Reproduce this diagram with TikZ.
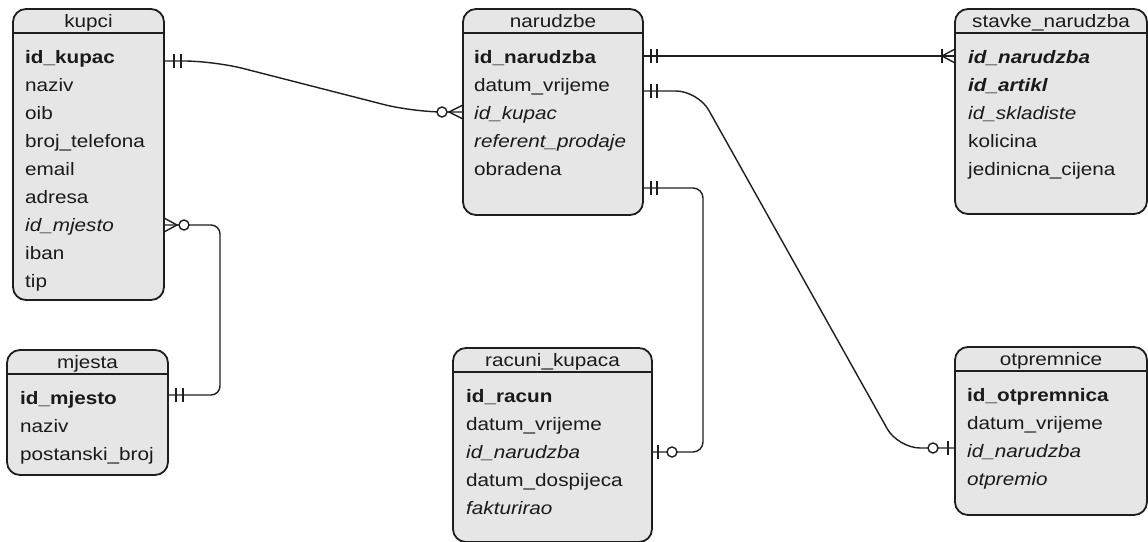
\documentclass[tikz,border=0pt]{standalone}
\usepackage{fontspec}
\setmainfont{Liberation Sans}[FakeStretch=1.15]
\usetikzlibrary{calc}
\definecolor{tblfill}{HTML}{E6E6E6}
\definecolor{ln}{HTML}{1E1E1E}
\definecolor{tx}{HTML}{1A1A1A}
\tikzset{
  tbl/.style={draw=ln, line width=1.8pt, fill=tblfill, rounded corners=13pt, inner sep=0pt, outer sep=0pt},
  tblline/.style={draw=ln, line width=1.5pt},
  ttl/.style={inner sep=0pt, font=\fontsize{18}{20}\selectfont, text=tx, anchor=base},
  rowtxt/.style={inner sep=0pt, font=\fontsize{18}{20}\selectfont, text=tx, anchor=base west},
  conn/.style={draw=ln, line width=1.4pt},
  ring/.style={draw=ln, line width=1.4pt, fill=white},
}
% name, left, top, right, bottom, title
\newcommand{\ertable}[6]{%
  \node[tbl, minimum width={(#4)-(#2)}, minimum height={(#5)-(#3)}] (#1) at ({((#2)+(#4))/2},{((#3)+(#5))/2}) {};
  \draw[tblline] ({#2},{(#3)+24}) -- ({#4},{(#3)+24});
  \node[ttl] (#1-t) at ({((#2)+(#4))/2},{(#3)+18}) {#6};
}
\newcommand{\errow}[4]{\node[rowtxt] (#1) at (#2,#3) {#4};}
\newcommand{\tickat}[2]{\draw[conn] ($(#1)+(#2,-7)$) -- ($(#1)+(#2,7)$);}
\newcommand{\ringat}[2]{\draw[ring] ($(#1)+(#2,0)$) circle[radius=5];}
\newcommand{\crowat}[2]{\draw[conn] ($(#1)+(0,-7)$) -- ($(#1)+(#2,0)$) -- ($(#1)+(0,7)$);}
\begin{document}
\begin{tikzpicture}[x=1pt, y=-1pt]
\useasboundingbox (0,0) rectangle (1148,541);

% tables
\ertable{kupci}{13}{9}{164}{300}{kupci}
\ertable{mjesta}{7}{350}{168}{475}{mjesta}
\ertable{narudzbe}{463}{9}{643}{215}{narudzbe}
\ertable{stavke}{955}{9}{1147}{214}{stavke\_narudzba}
\ertable{racuni}{453}{348}{652}{542}{racuni\_kupaca}
\ertable{otpremnice}{955}{347}{1147}{515}{otpremnice}

% kupci rows
\errow{k1}{25}{63}{\textbf{id\_kupac}}
\errow{k2}{25}{91}{naziv}
\errow{k3}{25}{119}{oib}
\errow{k4}{25}{147}{broj\_telefona}
\errow{k5}{25}{175}{email}
\errow{k6}{25}{203}{adresa}
\errow{k7}{25}{231}{\textit{id\_mjesto}}
\errow{k8}{25}{259}{iban}
\errow{k9}{25}{287}{tip}

% mjesta rows
\errow{m1}{20}{404}{\textbf{id\_mjesto}}
\errow{m2}{20}{432}{naziv}
\errow{m3}{20}{460}{postanski\_broj}

% narudzbe rows
\errow{n1}{474}{63}{\textbf{id\_narudzba}}
\errow{n2}{474}{91}{datum\_vrijeme}
\errow{n3}{474}{119}{\textit{id\_kupac}}
\errow{n4}{474}{147}{\textit{referent\_prodaje}}
\errow{n5}{474}{175}{obradena}

% stavke rows
\errow{s1}{968}{63}{\textbf{\textit{id\_narudzba}}}
\errow{s2}{968}{91}{\textbf{\textit{id\_artikl}}}
\errow{s3}{968}{119}{\textit{id\_skladiste}}
\errow{s4}{968}{147}{kolicina}
\errow{s5}{968}{175}{jedinicna\_cijena}

% racuni rows
\errow{r1}{466}{402}{\textbf{id\_racun}}
\errow{r2}{466}{430}{datum\_vrijeme}
\errow{r3}{466}{458}{\textit{id\_narudzba}}
\errow{r4}{466}{486}{datum\_dospijeca}
\errow{r5}{466}{514}{\textit{fakturirao}}

% otpremnice rows
\errow{o1}{967}{401}{\textbf{id\_otpremnica}}
\errow{o2}{967}{429}{datum\_vrijeme}
\errow{o3}{967}{457}{\textit{id\_narudzba}}
\errow{o4}{967}{485}{\textit{otpremio}}

% connector 1: kupci - narudzbe
\coordinate (a1) at (kupci.east |- 0,61);
\coordinate (b1) at (narudzbe.west |- 0,112);
\draw[conn, rounded corners=30pt] (a1) -- ++(50,0) -- ($(b1)+(-50,0)$) -- (b1);
\tickat{a1}{10} \tickat{a1}{17}
\crowat{b1}{-14} \ringat{b1}{-21}

% connector 2: kupci - mjesta
\coordinate (a2) at (kupci.east |- 0,225);
\coordinate (b2) at (mjesta.east |- 0,395);
\draw[conn, rounded corners=9pt] (a2) -- ++(56,0) |- (b2);
\crowat{a2}{13} \ringat{a2}{20}
\tickat{b2}{8} \tickat{b2}{15}

% connector 3: narudzbe - stavke
\coordinate (a3) at (narudzbe.east |- 0,56);
\coordinate (b3) at (stavke.west |- 0,56);
\draw[conn] (a3) -- (b3);
\tickat{a3}{8} \tickat{a3}{14}
\crowat{b3}{-13} \tickat{b3}{-13}

% connector 4: narudzbe - otpremnice
\coordinate (a4) at (narudzbe.east |- 0,91);
\coordinate (b4) at (otpremnice.west |- 0,448);
\draw[conn, rounded corners=22pt] (a4) -- ++(55,0) -- ($(b4)+(-57,0)$) -- (b4);
\tickat{a4}{8} \tickat{a4}{14}
\tickat{b4}{-7} \ringat{b4}{-22}

% connector 5: narudzbe - racuni
\coordinate (a5) at (narudzbe.east |- 0,188);
\coordinate (b5) at (racuni.east |- 0,452);
\draw[conn, rounded corners=10pt] (a5) -- ++(60,0) |- (b5);
\tickat{a5}{8} \tickat{a5}{14}
\tickat{b5}{6} \ringat{b5}{20}
\end{tikzpicture}
\end{document}
